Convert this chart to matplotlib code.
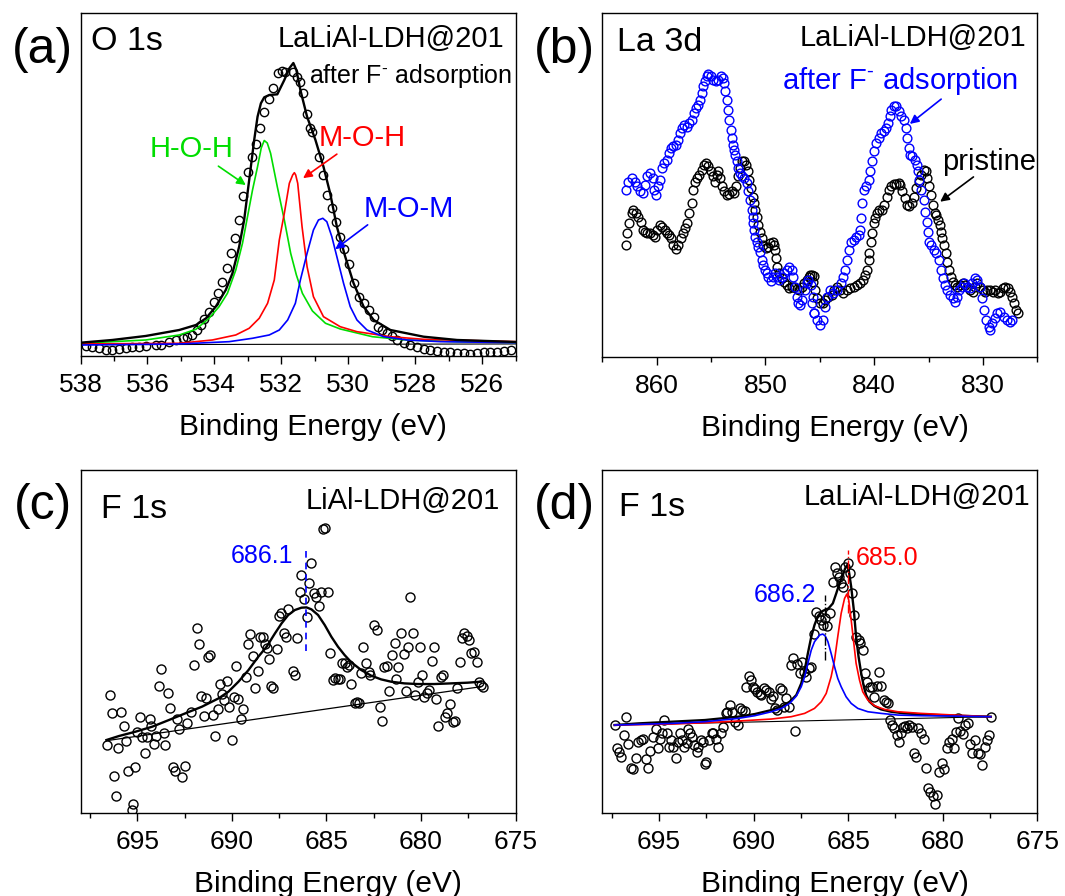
import matplotlib
matplotlib.use('Agg')
import matplotlib.pyplot as plt
from matplotlib.ticker import MultipleLocator

plt.rcParams['font.family'] = 'Liberation Sans'
plt.rcParams['mathtext.fontset'] = 'custom'
plt.rcParams['mathtext.rm'] = 'Liberation Sans'

# ---- (a) O 1s ----
a_pts_x = [537.84, 537.65, 537.45, 537.25, 537.05, 536.85, 536.65, 536.45, 536.25, 536.05,
           535.75, 535.60, 535.35, 535.15, 534.95, 534.81, 534.66, 534.51, 534.40, 534.31,
           534.16, 534.01, 533.88, 533.76, 533.63, 533.51, 533.39, 533.26, 533.14, 533.01,
           532.89, 532.76, 532.63, 532.51, 532.38, 532.26, 532.09, 531.98, 531.88, 531.65,
           531.53, 531.43, 531.35, 531.22, 531.13, 531.08, 530.86, 530.74, 530.64, 530.49,
           530.36, 530.24, 530.14, 529.99, 529.84, 529.69, 529.54, 529.39, 529.24, 529.12,
           528.99, 528.84, 528.69, 528.54, 528.34, 528.14, 527.94, 527.75, 527.55, 527.35,
           527.15, 526.95, 526.75, 526.55, 526.35, 526.15, 525.95, 525.75, 525.55, 525.35,
           525.15]
a_pts_y = [2.91, 2.53, 2.24, 1.75, 1.75, 1.95, 2.24, 2.53, 2.71, 2.91,
           3.20, 3.20, 4.17, 4.66, 5.16, 5.62, 6.12, 7.57, 9.03, 10.69,
           12.90, 15.64, 18.26, 21.64, 25.55, 29.92, 34.29, 39.62, 46.70, 53.51,
           58.06, 61.82, 66.50, 71.16, 74.86, 78.16, 82.35, 83.11, 82.87, 82.82,
           81.36, 79.90, 76.52, 70.41, 66.33, 65.25, 58.06, 52.73, 46.90, 43.02,
           39.12, 34.75, 31.08, 26.80, 21.18, 17.27, 15.35, 13.40, 11.45, 8.53,
           7.57, 6.61, 5.83, 4.66, 3.70, 3.20, 2.53, 1.95, 1.75, 1.54,
           1.25, 1.25, 0.96, 0.79, 0.58, 0.79, 1.08, 1.25, 1.25, 1.54,
           1.75]
a_fit_x = [538.00, 537.05, 536.05, 535.05, 534.55, 534.25, 533.96, 533.66, 533.46, 533.26,
           533.11, 533.01, 532.91, 532.81, 532.71, 532.61, 532.51, 532.36, 532.12, 531.91,
           531.76, 531.64, 531.55, 531.43, 531.23, 530.98, 530.74, 530.54, 530.34, 530.09,
           529.84, 529.54, 529.24, 528.74, 527.75, 526.75, 525.25, 525.00]
a_fit_y = [3.87, 4.66, 5.83, 7.57, 9.03, 10.98, 14.36, 19.23, 24.09, 31.84,
           39.62, 47.39, 55.14, 62.93, 69.71, 73.61, 75.36, 76.03, 76.23, 80.40,
           83.81, 85.35, 83.31, 77.49, 69.71, 62.93, 55.14, 47.39, 37.67, 28.93,
           21.18, 14.36, 10.49, 7.57, 5.62, 4.66, 4.17, 4.08]
a_hoh_x = [538.00, 536.05, 535.05, 534.55, 534.16, 533.86, 533.61, 533.36, 533.16, 533.01,
           532.86, 532.71, 532.60, 532.51, 532.42, 532.32, 532.12, 531.91, 531.72, 531.55,
           531.37, 531.07, 530.68, 530.24, 529.28, 528.26, 526.77, 525.00]
a_hoh_y = [3.70, 4.66, 6.12, 7.78, 10.98, 14.36, 18.26, 25.05, 32.83, 40.58,
           48.36, 55.14, 60.59, 62.78, 62.05, 59.05, 49.32, 39.62, 29.92, 23.60,
           18.26, 13.11, 9.53, 7.87, 5.62, 4.66, 4.17, 3.93]
a_moh_x = [538.00, 535.05, 534.06, 533.36, 532.96, 532.66, 532.41, 532.21, 532.06, 531.91,
           531.76, 531.66, 531.61, 531.57, 531.51, 531.38, 531.23, 531.04, 530.74, 530.24,
           529.74, 528.74, 527.75, 525.00]
a_moh_y = [3.50, 3.70, 4.66, 6.12, 8.07, 10.98, 15.35, 22.14, 33.79, 41.57,
           50.31, 52.73, 53.40, 52.73, 50.31, 37.67, 26.01, 17.27, 11.45, 8.53,
           7.08, 5.62, 4.86, 4.17]
a_mom_x = [538.00, 535.05, 533.56, 532.86, 532.36, 532.06, 531.81, 531.58, 531.43, 531.23,
           531.04, 530.89, 530.76, 530.64, 530.49, 530.34, 530.14, 529.94, 529.74, 529.44,
           528.94, 528.24, 527.25, 525.00]
a_mom_y = [3.20, 3.50, 4.17, 5.16, 6.12, 7.57, 10.49, 15.35, 22.14, 29.92,
           36.70, 39.62, 40.11, 39.12, 34.75, 28.93, 21.18, 14.36, 10.49, 7.57,
           5.62, 4.66, 4.17, 3.87]
a_base_x = [538.0, 525.0]
a_base_y = [3.3, 3.5]

# ---- (b) La 3d ----
b_after_x = [862.82, 862.60, 862.30, 861.99, 861.78, 861.53, 861.29, 861.07, 860.86, 860.61,
             860.36, 860.24, 860.06, 859.84, 859.69, 859.54, 859.32, 859.08, 858.86, 858.68,
             858.46, 858.22, 858.00, 857.85, 857.70, 857.48, 857.24, 856.99, 856.78, 856.56,
             856.38, 856.16, 856.01, 855.86, 855.70, 855.55, 855.40, 855.24, 855.03, 854.78,
             854.54, 854.32, 854.11, 853.92, 853.80, 853.68, 853.56, 853.46, 853.31, 853.19,
             853.07, 852.94, 852.85, 852.76, 852.64, 852.48, 852.33, 852.12, 851.93, 851.72,
             851.56, 851.41, 851.26, 851.17, 851.10, 851.01, 850.92, 850.80, 850.64, 850.49,
             850.34, 850.18, 850.03, 849.88, 849.72, 849.51, 849.33, 849.11, 848.96, 848.71,
             848.50, 848.28, 848.04, 847.79, 847.58, 847.42, 847.27, 847.12, 846.96, 846.81,
             846.60, 846.35, 846.20, 846.04, 845.83, 845.65, 845.49,
             845.74, 845.52, 845.28, 844.97, 844.72, 844.51, 844.30, 844.05, 843.74, 843.44,
             843.07, 842.82, 842.67, 842.52, 842.30, 842.12, 841.90, 841.69, 841.44, 841.29,
             841.20, 841.08, 840.92, 840.74, 840.52, 840.37, 840.22, 840.00, 839.82, 839.60,
             839.39, 839.14, 838.90, 838.74, 838.59, 838.44, 838.22, 837.98, 837.76, 837.55,
             837.30, 837.09, 837.00, 836.84, 836.69, 836.48, 836.23, 836.08, 835.99, 835.86,
             835.71, 835.46, 835.31, 835.16, 835.06, 834.94, 834.79, 834.54, 834.30, 834.08,
             833.87, 833.69, 833.47, 833.26, 833.01, 832.77, 832.55, 832.40, 832.18, 831.94,
             831.72, 831.48, 831.23, 831.02, 830.77, 830.56, 830.31, 830.10, 829.94, 829.73,
             829.48, 829.33, 829.12, 828.93, 828.71, 828.41, 828.10, 827.80, 827.49, 827.34]
b_after_y = [48.55, 50.97, 51.94, 50.97, 49.52, 48.07, 47.58, 50.01, 52.43, 53.40,
             51.94, 48.55, 47.10, 49.52, 51.46, 54.85, 56.30, 57.27, 59.21, 60.66,
             61.15, 61.63, 63.09, 65.03, 66.48, 67.45, 66.77, 67.93, 68.90, 70.84,
             72.29, 73.26, 74.71, 76.65, 78.59, 80.04, 81.69, 82.27, 81.69, 80.53,
             80.04, 80.33, 81.50, 81.01, 79.56, 77.14, 74.71, 71.81, 68.90, 65.99,
             63.57, 61.63, 60.18, 58.73, 56.79, 54.85, 53.40, 52.43, 51.94, 50.49,
             48.07, 45.65, 42.74, 40.80, 38.86, 36.92, 34.99, 33.53, 32.08, 30.63,
             28.20, 26.75, 25.30, 24.52, 23.36, 22.20, 23.36, 24.33, 23.36, 22.39,
             23.16, 24.33, 25.30, 26.27, 25.30, 23.36, 20.45, 17.54, 15.61, 15.12,
             16.58, 19.48, 21.42, 22.39, 20.94, 17.54, 12.70,
             15.60, 12.70, 10.76, 9.31, 10.76, 14.63, 17.54, 19.48, 18.51, 19.48,
             21.42, 23.36, 25.29, 28.20, 31.11, 33.53, 34.02, 34.98, 35.47, 36.92,
             40.31, 44.67, 48.55, 49.52, 51.46, 53.88, 56.79, 59.69, 62.12, 63.57,
             65.02, 65.51, 66.48, 67.93, 69.87, 71.81, 72.97, 72.77, 71.32, 69.87,
             68.90, 66.48, 63.57, 60.66, 58.72, 58.24, 57.27, 55.82, 53.88, 51.46,
             48.55, 45.64, 42.25, 39.34, 36.44, 33.53, 32.56, 31.11, 30.14, 28.20,
             25.29, 22.87, 20.93, 19.48, 18.03, 17.06, 16.09, 17.54, 19.48, 20.45,
             21.42, 20.45, 19.97, 21.42, 22.87, 22.39, 20.45, 17.06, 13.67, 10.76,
             8.82, 7.85, 9.79, 11.24, 12.70, 13.18, 11.73, 10.76, 10.27, 10.76]
b_prist_x = [862.82, 862.70, 862.51, 862.30, 862.14, 861.90, 861.68, 861.47, 861.29, 861.07,
             860.86, 860.61, 860.36, 860.15, 859.94, 859.69, 859.48, 859.23, 859.08, 858.86,
             858.68, 858.46, 858.25, 858.00, 857.79, 857.60, 857.39, 857.18, 856.99, 856.78,
             856.62, 856.47, 856.25, 856.07, 855.86, 855.64, 855.46, 855.24, 855.03, 854.85,
             854.63, 854.48, 854.32, 854.17, 854.02, 853.80, 853.56, 853.31, 853.10, 852.88,
             852.70, 852.55, 852.33, 852.12, 851.93, 851.78, 851.62, 851.47, 851.32, 851.17,
             851.04, 850.92, 850.80, 850.64, 850.49, 850.34, 850.18, 849.97, 849.79, 849.57,
             849.33, 849.20, 849.11, 849.02, 848.90, 848.74, 848.50, 848.25, 848.04, 847.79,
             847.58, 847.33, 847.12, 846.87, 846.66, 846.44, 846.20, 845.95, 845.74, 845.49,
             845.89, 845.64, 845.43, 845.22, 844.97, 844.72, 844.51, 844.20, 843.90, 843.68,
             843.44, 843.13, 842.82, 842.52, 842.21, 841.90, 841.60, 841.29, 841.04, 840.83,
             840.68, 840.52, 840.43, 840.28, 840.22, 840.06, 839.91, 839.76, 839.54, 839.30,
             839.08, 838.84, 838.62, 838.44, 838.22, 837.98, 837.76, 837.61, 837.46, 837.21,
             837.00, 836.78, 836.54, 836.38, 836.14, 835.92, 835.71, 835.46, 835.25, 835.10,
             834.94, 834.79, 834.61, 834.45, 834.30, 834.15, 833.99, 833.87, 833.72, 833.56,
             833.41, 833.26, 833.10, 832.95, 832.76, 832.55, 832.34, 832.09, 831.85, 831.63,
             831.42, 831.17, 830.92, 830.71, 830.50, 830.25, 830.01, 829.79, 829.58, 829.33,
             829.09, 828.87, 828.63, 828.41, 828.17, 827.95, 827.74, 827.55, 827.34, 827.12,
             826.94, 826.82]
b_prist_y = [32.56, 35.96, 38.86, 41.77, 42.74, 41.77, 40.80, 39.35, 36.92, 36.44,
             35.96, 36.15, 35.47, 34.99, 36.92, 38.38, 37.89, 36.92, 36.15, 35.47,
             34.50, 32.56, 31.30, 32.56, 34.50, 35.96, 37.41, 38.86, 41.77, 44.68,
             48.55, 50.97, 51.94, 52.91, 54.37, 55.82, 56.30, 55.34, 53.88, 52.43,
             50.97, 52.91, 53.88, 51.94, 49.52, 48.07, 47.10, 47.39, 48.07, 47.58,
             49.52, 52.43, 54.85, 56.79, 56.79, 55.82, 53.88, 51.46, 49.04, 46.61,
             44.68, 42.74, 40.80, 38.38, 36.44, 34.50, 32.56, 31.59, 32.08, 33.05,
             33.53, 32.56, 31.11, 28.69, 26.27, 24.33, 22.87, 21.90, 20.94, 19.97,
             20.26, 20.45, 19.68, 19.48, 20.45, 21.42, 22.39, 23.36, 23.84, 23.55,
             23.84, 21.90, 19.48, 17.06, 15.60, 15.60, 16.57, 17.54, 18.03, 19.48,
             20.45, 19.48, 18.51, 19.48, 19.97, 20.45, 20.93, 21.61, 22.39, 23.84,
             25.29, 28.20, 30.14, 33.53, 35.95, 38.86, 40.31, 41.96, 42.74, 42.74,
             44.19, 46.61, 48.55, 49.52, 50.20, 50.29, 50.68, 50.00, 48.07, 46.13,
             44.19, 43.71, 44.67, 46.61, 49.03, 50.97, 52.91, 54.36, 53.88, 51.94,
             49.52, 47.10, 44.19, 41.77, 41.28, 39.83, 38.37, 36.44, 34.50, 32.56,
             30.14, 27.72, 25.29, 23.36, 21.90, 20.93, 20.45, 20.93, 21.42, 20.93,
             20.45, 19.48, 19.00, 20.45, 21.42, 20.45, 19.48, 19.00, 19.48, 19.48,
             19.00, 19.48, 18.51, 19.00, 19.97, 20.45, 19.97, 19.00, 17.54, 15.60,
             13.67, 12.70]

# ---- (c) F 1s, LiAl-LDH@201 ----
c_pts_x = [696.58, 696.46, 696.35, 696.23, 696.11, 696.00, 695.88, 695.70, 695.61, 695.47,
           695.30, 695.21, 695.12, 695.00, 694.88, 694.77, 694.60, 694.47, 694.35, 694.25,
           694.12, 694.00, 693.86, 693.72, 693.60, 693.51, 693.37, 693.25, 693.12, 693.02,
           692.90, 692.77, 692.63, 692.49, 692.37, 692.14, 692.02, 691.84, 691.75, 691.61,
           691.49, 691.37, 691.26, 691.14, 691.00, 690.88, 690.74, 690.61, 690.53, 690.39,
           690.26, 690.14, 690.00, 689.88, 689.77, 689.65, 689.51, 689.39, 689.26, 689.16,
           689.04, 688.90, 688.77, 688.63, 688.51, 688.37, 688.25, 688.16, 688.02, 687.93,
           687.81, 687.63, 687.51, 687.40, 687.23, 687.16, 687.05, 686.76, 686.67, 686.53,
           686.40, 686.32, 686.18, 686.05, 685.93, 685.79, 685.65, 685.53, 685.40, 685.26,
           685.18, 685.05, 684.91, 684.79, 684.65, 684.53, 684.39, 684.30, 684.18, 684.04,
           683.90, 683.83, 683.68, 683.51, 683.39, 683.30, 683.16, 683.04, 682.90, 682.77,
           682.67, 682.46, 682.32, 682.19, 682.07, 681.93, 681.81, 681.67, 681.54, 681.40,
           681.32, 681.19, 681.05, 680.91, 680.79, 680.67, 680.56, 680.44, 680.30, 680.18,
           680.04, 679.95, 679.83, 679.68, 679.56, 679.44, 679.33, 679.21, 679.09, 678.95,
           678.83, 678.74, 678.60, 678.46, 678.33, 678.19, 678.07, 677.95, 677.84, 677.72,
           677.58, 677.46, 677.33, 677.19, 677.05, 676.93, 676.81, 676.70]
c_pts_y = [19.81, 34.38, 29.04, 10.78, 4.96, 18.84, 29.52, 25.35, 21.07, 12.33,
           0.88, 2.63, 13.30, 23.70, 27.87, 22.05, 17.58, 22.05, 27.29, 25.35,
           20.10, 22.43, 37.09, 41.85, 23.21, 19.81, 34.86, 30.49, 13.30, 12.33,
           27.29, 24.38, 10.39, 13.69, 26.32, 29.42, 43.11, 54.01, 49.14, 34.09,
           28.26, 33.41, 45.35, 46.03, 28.55, 22.43, 30.20, 37.48, 34.67, 32.92,
           38.55, 30.78, 21.27, 33.89, 42.82, 33.12, 27.29, 30.20, 39.72, 49.23,
           52.15, 45.74, 36.32, 41.47, 51.17, 51.17, 49.23, 47.97, 44.77, 37.00,
           36.32, 47.68, 57.39, 58.17, 52.53, 51.17, 59.33, 41.47, 40.20, 50.88,
           64.48, 69.33, 62.24, 57.00, 66.91, 72.93, 64.19, 63.02, 60.30, 64.48,
           82.64, 82.93, 64.48, 46.51, 38.75, 39.23, 38.94, 38.94, 43.79, 43.60,
           42.63, 43.11, 37.48, 31.95, 32.43, 32.14, 40.69, 48.26, 43.60, 41.17,
           40.20, 54.77, 53.31, 30.78, 26.90, 42.44, 42.82, 35.64, 46.03, 49.62,
           38.94, 42.44, 52.53, 46.32, 35.64, 48.46, 63.02, 52.34, 34.38, 38.26,
           48.46, 40.20, 33.89, 34.86, 35.83, 44.28, 48.46, 33.12, 25.35, 39.52,
           40.20, 28.07, 29.04, 31.75, 26.61, 26.90, 36.32, 44.09, 50.88, 52.53,
           51.56, 50.40, 46.51, 47.00, 44.09, 38.26, 37.29, 36.80]
c_fit_x = [696.63, 695.97, 695.09, 694.21, 693.33, 692.46, 691.58, 690.70, 690.18, 689.65,
           689.12, 688.60, 688.16, 687.72, 687.37, 687.02, 686.67, 686.32, 686.05, 685.79,
           685.44, 685.09, 684.74, 684.39, 684.04, 683.68, 683.16, 682.63, 682.11, 681.58,
           680.88, 680.18, 679.30, 678.42, 677.54, 676.84]
c_fit_y = [21.27, 22.43, 23.70, 25.15, 27.09, 29.04, 30.98, 33.41, 35.35, 38.26,
           41.66, 45.54, 48.46, 52.34, 55.25, 57.68, 59.14, 59.82, 59.91, 59.33,
           57.68, 54.77, 51.37, 48.46, 46.03, 43.89, 41.66, 40.01, 38.94, 38.26,
           37.77, 37.58, 37.58, 37.77, 37.97, 38.26]
c_base_x = [696.63, 676.84]
c_base_y = [21.07, 36.80]
c_peak = 686.1

# ---- (d) F 1s, LaLiAl-LDH@201 ----
d_pts_x = [697.35, 697.23, 697.11, 697.00, 696.83, 696.76, 696.62, 696.48, 696.35, 696.23,
           696.09, 695.95, 695.83, 695.70, 695.60, 695.48, 695.30, 695.18, 695.04, 694.95,
           694.82, 694.72, 694.60, 694.47, 694.37, 694.24, 694.12, 694.02, 693.89, 693.77,
           693.67, 693.54, 693.45, 693.37, 693.24, 693.14, 693.01, 692.93, 692.79, 692.66,
           692.57, 692.49, 692.36, 692.22, 692.14, 692.01, 691.87, 691.73, 691.61, 691.48,
           691.38, 691.26, 691.13, 690.99, 690.85, 690.73, 690.61, 690.47, 690.38, 690.26,
           690.15, 690.03, 689.90, 689.80, 689.67, 689.59, 689.45, 689.32, 689.20, 689.10,
           688.97, 688.85, 688.74, 688.62, 688.50, 688.39, 688.27, 688.15, 688.04, 687.92,
           687.79, 687.69, 687.57, 687.44, 687.34, 687.21, 687.09, 686.95, 686.81, 686.69,
           686.56, 686.46, 686.34, 686.21, 686.11, 685.98, 685.81, 685.69, 685.58, 685.46,
           685.37, 685.28, 685.16, 685.02, 684.88, 684.81, 684.70, 684.58, 684.45, 684.35,
           684.23, 684.10, 684.00, 683.87, 683.75, 683.61, 683.47, 683.35, 683.26, 683.12,
           683.00, 682.87, 682.77, 682.70, 682.56, 682.42, 682.29, 682.21, 682.12, 681.99,
           681.89, 681.77, 681.64, 681.54, 681.41, 681.29, 681.15, 681.01, 680.89, 680.76,
           680.66, 680.54, 680.41, 680.31, 680.18, 680.06, 679.92, 679.78, 679.66, 679.53,
           679.43, 679.31, 679.18, 679.08, 678.95, 678.83, 678.69, 678.55, 678.43, 678.30,
           678.16, 678.02, 677.90, 677.78, 677.67, 677.55, 677.43]
d_pts_y = [25.63, 18.83, 17.86, 16.40, 22.72, 28.06, 20.09, 13.01, 12.71, 15.92,
           20.77, 21.26, 21.45, 15.63, 13.01, 18.15, 22.23, 24.37, 18.83, 21.45,
           23.40, 27.09, 23.20, 19.12, 21.26, 19.12, 15.92, 20.77, 23.20, 21.26,
           19.12, 20.48, 24.37, 23.20, 22.23, 19.80, 17.86, 19.12, 21.26, 20.77,
           14.27, 14.95, 21.26, 23.20, 23.40, 21.45, 19.32, 23.20, 25.14, 29.03,
           29.51, 31.45, 29.51, 26.60, 25.63, 30.48, 30.00, 29.80, 36.80, 39.90,
           38.74, 36.80, 36.02, 35.34, 34.66, 34.37, 36.31, 35.82, 35.34, 33.11,
           34.08, 30.48, 30.00, 36.31, 35.82, 30.78, 33.40, 30.97, 43.11, 45.05,
           23.98, 43.40, 40.87, 44.08, 41.17, 39.71, 42.14, 42.62, 52.14, 58.64,
           57.38, 56.22, 54.76, 56.70, 54.47, 58.16, 67.38, 71.75, 70.00, 68.65,
           66.90, 65.93, 71.75, 72.92, 69.81, 64.18, 57.67, 51.36, 50.39, 49.42,
           47.48, 40.87, 38.25, 36.60, 36.80, 33.88, 36.99, 41.17, 36.99, 32.91,
           32.43, 31.94, 27.09, 25.63, 24.66, 22.72, 20.77, 23.20, 25.14, 25.34,
           24.66, 25.63, 25.14, 17.38, 16.21, 24.66, 23.40, 21.45, 13.01, 7.18,
           6.21, 4.95, 2.62, 5.24, 12.04, 14.46, 12.72, 18.83, 20.77, 21.45,
           18.83, 23.69, 27.57, 23.98, 23.01, 25.63, 26.31, 20.09, 17.57, 21.26,
           17.57, 17.18, 13.98, 19.32, 21.26, 22.72, 28.06]
d_fit_x = [697.35, 696.09, 694.33, 692.57, 690.82, 689.94, 689.06, 688.53, 688.09, 687.74,
           687.48, 687.30, 687.13, 686.95, 686.78, 686.60, 686.42, 686.25, 686.04, 685.81,
           685.63, 685.46, 685.28, 685.16, 685.05, 684.97, 684.84, 684.70, 684.58, 684.45,
           684.31, 684.17, 684.05, 683.87, 683.61, 683.26, 682.73, 682.03, 681.15, 680.27,
           679.22, 677.46]
d_fit_y = [25.63, 26.11, 26.60, 27.09, 28.06, 28.83, 30.00, 30.97, 32.43, 34.37,
           37.77, 41.65, 46.51, 51.36, 54.76, 57.38, 58.64, 59.13, 59.61, 61.07,
           63.98, 66.90, 69.32, 71.27, 72.24, 70.78, 65.93, 59.13, 51.36, 45.54,
           40.68, 36.80, 34.37, 32.43, 31.16, 30.19, 29.51, 29.03, 28.74, 28.54,
           28.35, 28.06]
d_hi_x = [697.35, 694.33, 692.57, 690.82, 689.94, 689.06, 688.53, 688.09, 687.74, 687.48,
          687.30, 687.13, 686.95, 686.78, 686.51, 686.34, 686.21, 686.07, 685.90, 685.72,
          685.55, 685.37, 685.11, 684.84, 684.49, 683.96, 683.26, 682.38, 681.15, 679.39,
          677.46]
d_hi_y = [25.63, 26.11, 26.60, 27.57, 28.35, 29.51, 30.48, 31.94, 34.08, 36.80,
          39.71, 43.59, 47.48, 49.90, 51.85, 52.14, 51.56, 49.90, 46.51, 42.62,
          39.22, 36.80, 33.88, 31.94, 30.48, 29.51, 29.03, 28.54, 28.35, 28.25,
          28.06]
d_lo_x = [697.35, 694.33, 692.57, 690.82, 689.06, 688.01, 687.30, 686.78, 686.42, 686.16,
          685.90, 685.72, 685.55, 685.37, 685.19, 685.07, 684.97, 684.84, 684.70, 684.58,
          684.40, 684.23, 683.96, 683.61, 683.08, 682.38, 681.15, 679.39, 677.46]
d_lo_y = [25.63, 25.92, 26.31, 26.80, 27.38, 28.06, 29.03, 30.48, 32.43, 34.85,
          39.71, 44.56, 51.36, 58.16, 62.53, 63.79, 62.04, 56.22, 49.42, 43.59,
          38.74, 35.34, 32.91, 31.26, 30.19, 29.51, 29.03, 28.54, 28.06]
d_base_x = [697.35, 677.46]
d_base_y = [25.63, 28.06]
d_peak_hi = 686.2
d_peak_lo = 685.0

GREEN = '#00dd00'
RED = '#ff0000'
BLUE = '#0000ff'
AFTER_F = r'after F$^{\text{-}}$ adsorption'

fig = plt.figure(figsize=(10.65, 8.96), dpi=100)
ax_a = fig.add_axes([0.0756, 0.6027, 0.4085, 0.3831])
ax_b = fig.add_axes([0.5655, 0.6016, 0.4085, 0.3842])
ax_c = fig.add_axes([0.0756, 0.0926, 0.4085, 0.3831])
ax_d = fig.add_axes([0.5655, 0.0926, 0.4085, 0.3831])


def setup(ax, xlim, major, minor, label_x):
    ax.set_xlim(*xlim)
    ax.set_ylim(0, 100)
    ax.xaxis.set_major_locator(MultipleLocator(major))
    ax.xaxis.set_minor_locator(MultipleLocator(minor))
    ax.set_yticks([])
    ax.tick_params(axis='x', which='major', direction='out', length=6, width=1,
                   labelsize=19, pad=6)
    ax.tick_params(axis='x', which='minor', direction='out', length=3.5, width=1)
    for s in ax.spines.values():
        s.set_linewidth(1.0)
    ax.set_xlabel('Binding Energy (eV)', fontsize=21.5)
    ax.xaxis.set_label_coords(label_x, -0.166)
    ax.xaxis.label.set_va('top')


def circles(ax, x, y, color='k', ms=6):
    ax.plot(x, y, 'o', ls='none', mfc='none', mec=color, ms=ms, mew=1.0)


def arrow(ax, tip, tail, color):
    ax.annotate('', xy=tip, xytext=tail,
                arrowprops=dict(arrowstyle='-|>', color=color, lw=1.2,
                                mutation_scale=13, shrinkA=0, shrinkB=0))


# (a)
setup(ax_a, (538, 525), 2, 1, 0.534)
circles(ax_a, a_pts_x, a_pts_y)
ax_a.plot(a_base_x, a_base_y, color='k', lw=0.8)
ax_a.plot(a_hoh_x, a_hoh_y, color=GREEN, lw=1.2)
ax_a.plot(a_moh_x, a_moh_y, color=RED, lw=1.2)
ax_a.plot(a_mom_x, a_mom_y, color=BLUE, lw=1.2)
ax_a.plot(a_fit_x, a_fit_y, color='k', lw=1.7)
ax_a.text(0.025, 0.891, 'O 1s', transform=ax_a.transAxes, fontsize=24.5, va='baseline')
ax_a.text(0.973, 0.901, 'LaLiAl-LDH@201', transform=ax_a.transAxes, fontsize=21,
          ha='right', va='baseline')
ax_a.text(0.992, 0.794, AFTER_F, transform=ax_a.transAxes,
          fontsize=18, ha='right', va='baseline')
ax_a.text(0.255, 0.5805, 'H-O-H', color=GREEN, transform=ax_a.transAxes, fontsize=21,
          ha='center', va='baseline')
ax_a.text(0.647, 0.612, 'M-O-H', color=RED, transform=ax_a.transAxes, fontsize=21,
          ha='center', va='baseline')
ax_a.text(0.754, 0.406, 'M-O-M', color=BLUE, transform=ax_a.transAxes, fontsize=21,
          ha='center', va='baseline')
arrow(ax_a, (533.06, 49.8), (533.88, 55.3), GREEN)
arrow(ax_a, (531.35, 51.8), (530.34, 58.8), RED)
arrow(ax_a, (530.39, 31.1), (529.42, 38.2), BLUE)

# (b)
setup(ax_b, (865, 825), 10, 5, 0.535)
circles(ax_b, b_prist_x, b_prist_y, 'k', ms=6.3)
circles(ax_b, b_after_x, b_after_y, BLUE, ms=6.3)
ax_b.text(0.034, 0.890, 'La 3d', transform=ax_b.transAxes, fontsize=24.5, va='baseline')
ax_b.text(0.975, 0.904, 'LaLiAl-LDH@201', transform=ax_b.transAxes, fontsize=21,
          ha='right', va='baseline')
ax_b.text(0.955, 0.778, AFTER_F, color=BLUE, transform=ax_b.transAxes,
          fontsize=21, ha='right', va='baseline')
ax_b.text(0.998, 0.5436, 'pristine', transform=ax_b.transAxes, fontsize=21,
          ha='right', va='baseline')
arrow(ax_b, (836.72, 67.7), (833.84, 74.9), BLUE)
arrow(ax_b, (833.93, 45.1), (830.87, 52.3), 'k')

# (c)
setup(ax_c, (698, 675), 5, 2.5, 0.569)
circles(ax_c, c_pts_x, c_pts_y, ms=6.5)
ax_c.plot(c_base_x, c_base_y, color='k', lw=0.9)
ax_c.plot(c_fit_x, c_fit_y, color='k', lw=1.7)
ax_c.plot([c_peak, c_peak], [47.3, 77.6], color=BLUE, lw=1.2, ls=(0, (4, 3)))
ax_c.text(686.75, 72.7, '686.1', color=BLUE, fontsize=18, ha='right', va='baseline')
ax_c.text(0.048, 0.859, 'F 1s', transform=ax_c.transAxes, fontsize=24.5, va='baseline')
ax_c.text(0.965, 0.8855, 'LiAl-LDH@201', transform=ax_c.transAxes, fontsize=21,
          ha='right', va='baseline')

# (d)
setup(ax_d, (698, 675), 5, 2.5, 0.535)
circles(ax_d, d_pts_x, d_pts_y, ms=6.5)
ax_d.plot(d_base_x, d_base_y, color='k', lw=0.8)
ax_d.plot(d_fit_x, d_fit_y, color='k', lw=1.7)
ax_d.plot(d_lo_x, d_lo_y, color=RED, lw=1.2)
ax_d.plot(d_hi_x, d_hi_y, color=BLUE, lw=1.2)
ax_d.plot([d_peak_hi, d_peak_hi], [44.5, 63.5], color='k', lw=1.0, ls='-.')
ax_d.plot([d_peak_lo, d_peak_lo], [58.2, 76.6], color=RED, lw=1.0, ls='-.')
ax_d.text(686.69, 61.55, '686.2', color=BLUE, fontsize=18, ha='right', va='baseline')
ax_d.text(684.58, 72.24, '685.0', color=RED, fontsize=18, ha='left', va='baseline')
ax_d.text(0.038, 0.864, 'F 1s', transform=ax_d.transAxes, fontsize=24.5, va='baseline')
ax_d.text(0.983, 0.896, 'LaLiAl-LDH@201', transform=ax_d.transAxes, fontsize=21,
          ha='right', va='baseline')

# panel letters
fig.text(0.011, 0.930, '(a)', fontsize=36, va='baseline')
fig.text(0.501, 0.930, '(b)', fontsize=36, va='baseline')
fig.text(0.0127, 0.421, '(c)', fontsize=36, va='baseline')
fig.text(0.501, 0.421, '(d)', fontsize=36, va='baseline')

fig.savefig('out.png', dpi=100)
